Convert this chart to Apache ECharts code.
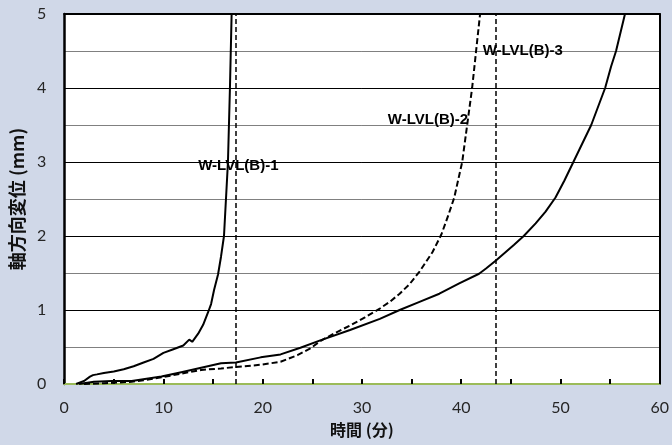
<!DOCTYPE html>
<html>
<head>
<meta charset="utf-8">
<script src="https://cdn.jsdelivr.net/npm/echarts@6/dist/echarts.min.js"></script>
<style>
html,body{margin:0;padding:0;background:#d0d8e8;}
#chart{width:672px;height:445px;}
</style>
</head>
<body>
<div id="chart"></div>
<script>
// Time (min) and axial displacement (mm) per specimen
var time1 = [1.2, 2.0, 2.6, 2.9, 3.3, 4.0, 5.0, 6.0, 7.0, 8.0, 9.0, 10.0, 11.0, 12.0, 12.6, 12.9, 13.5, 14.0, 14.5, 14.8, 15.1, 15.5, 15.8, 16.1, 16.3, 16.5, 16.7, 16.87];
var disp1 = [0, 0.04, 0.10, 0.12, 0.13, 0.15, 0.17, 0.20, 0.24, 0.29, 0.34, 0.42, 0.47, 0.52, 0.60, 0.57, 0.68, 0.80, 0.97, 1.08, 1.27, 1.48, 1.72, 2.0, 2.5, 3.0, 4.0, 5.0];

var time2 = [2.0, 4.0, 6.8, 8.0, 9.8, 11.8, 13.8, 15.8, 17.3, 19.8, 21.8, 23.5, 24.8, 25.8, 27.3, 28.8, 30.3, 31.8, 32.8, 33.8, 34.8, 35.8, 37.1, 38.0, 38.7, 39.3, 40.1, 40.6, 41.1, 41.5, 41.9];
var disp2 = [0, 0.01, 0.03, 0.05, 0.09, 0.14, 0.19, 0.21, 0.23, 0.26, 0.30, 0.39, 0.48, 0.58, 0.69, 0.79, 0.90, 1.02, 1.11, 1.22, 1.35, 1.52, 1.78, 2.02, 2.28, 2.52, 3.0, 3.5, 4.0, 4.5, 5.0];

var time3 = [1.5, 3.0, 4.8, 6.8, 7.8, 9.8, 11.8, 13.8, 15.8, 17.3, 19.8, 21.8, 23.8, 25.8, 28.8, 31.8, 33.8, 35.8, 37.8, 39.8, 41.8, 42.5, 43.5, 45.3, 46.3, 47.5, 48.5, 49.5, 50.4, 51.3, 52.2, 53.1, 54.5, 55.1, 55.6, 56.5];
var disp3 = [0, 0.03, 0.04, 0.04, 0.06, 0.10, 0.16, 0.22, 0.28, 0.29, 0.36, 0.40, 0.49, 0.59, 0.73, 0.88, 1.0, 1.11, 1.22, 1.36, 1.49, 1.56, 1.67, 1.88, 2.0, 2.17, 2.33, 2.52, 2.75, 3.0, 3.25, 3.5, 4.0, 4.29, 4.5, 5.0];

// Vertical reference lines (min)
var markTimes = [17.3, 43.5];

// Series labels
var labelNames = ['W-LVL(B)-1', 'W-LVL(B)-2', 'W-LVL(B)-3'];
var labelX = [17.55, 36.65, 46.2];
var labelY = [2.95, 3.57, 4.5];

// Axis titles
var xTitle = '時間 (分)';
var yTitle = '軸方向変位 (mm)';

function zip(a, b) { return a.map(function (v, i) { return [v, b[i]]; }); }

var chart = echarts.init(document.getElementById('chart'), null, {renderer: 'canvas'});
var latin = 'Lato, "Noto Sans CJK JP", sans-serif';
var labelFont = '"Liberation Sans", Arial, sans-serif';
var cjk = '"Noto Sans CJK JP", Lato, sans-serif';

chart.setOption({
  animation: false,
  backgroundColor: '#d0d8e8',
  grid: {left: 62, right: 10, top: 14, bottom: 61, show: true, backgroundColor: '#ffffff', borderWidth: 0},
  xAxis: [{
    type: 'value', min: 0, max: 60, interval: 10,
    name: xTitle, nameLocation: 'middle', nameGap: 38,
    nameTextStyle: {fontFamily: cjk, fontWeight: 'bold', fontSize: 16, color: '#111'},
    axisLine: {show: true, lineStyle: {color: '#9bbb59', width: 2}},
    axisTick: {show: true, inside: true, length: 5, lineStyle: {color: '#000', width: 2}},
    minorTick: {show: true, splitNumber: 2, length: 5, lineStyle: {color: '#000', width: 2}},
    axisLabel: {fontFamily: latin, fontSize: 16, color: '#262626', margin: 16},
    splitLine: {show: false}
  }, {
    type: 'value', min: 0, max: 60, position: 'top',
    axisLine: {show: true, onZero: false, lineStyle: {color: '#000', width: 2}},
    axisTick: {show: false}, axisLabel: {show: false}, splitLine: {show: false}
  }],
  yAxis: [{
    type: 'value', min: 0, max: 5, interval: 1,
    name: yTitle, nameLocation: 'middle', nameGap: 29,
    nameTextStyle: {fontFamily: cjk, fontWeight: 'bold', fontSize: 18, color: '#111'},
    axisLine: {show: true, lineStyle: {color: '#000', width: 2.5}},
    axisTick: {show: false},
    axisLabel: {fontFamily: latin, fontSize: 16, color: '#262626', margin: 18},
    splitLine: {show: true, lineStyle: {color: '#000', width: 1}},
    minorTick: {show: false, splitNumber: 2},
    minorSplitLine: {show: true, lineStyle: {color: '#808080', width: 1}}
  }, {
    type: 'value', min: 0, max: 5, position: 'right',
    axisLine: {show: true, onZero: false, lineStyle: {color: '#000', width: 2}},
    axisTick: {show: false}, axisLabel: {show: false}, splitLine: {show: false}
  }],
  series: [{
    name: labelNames[0], type: 'line', data: zip(time1, disp1),
    showSymbol: false, symbol: 'none', smooth: false, clip: true,
    lineStyle: {color: '#000', width: 2},
    markLine: {
      silent: true, symbol: 'none', label: {show: false},
      lineStyle: {color: '#000', width: 1.5, type: [5, 3]},
      data: markTimes.map(function (t) { return {xAxis: t}; })
    }
  }, {
    name: labelNames[1], type: 'line', data: zip(time2, disp2),
    showSymbol: false, symbol: 'none', clip: true,
    lineStyle: {color: '#000', width: 2, type: [6, 3]}
  }, {
    name: labelNames[2], type: 'line', data: zip(time3, disp3),
    showSymbol: false, symbol: 'none', clip: true,
    lineStyle: {color: '#000', width: 2}
  }, {
    type: 'scatter', symbolSize: 0, itemStyle: {color: '#000'},
    data: labelNames.map(function (n, i) { return {name: n, value: [labelX[i], labelY[i]]}; }),
    label: {show: true, position: [0, 0], align: 'center', verticalAlign: 'middle', formatter: '{b}',
      fontFamily: labelFont, fontWeight: 'bold', fontSize: 15, color: '#000', textBorderWidth: 0, opacity: 1},
    emphasis: {disabled: true},
    silent: true,
    z: 10
  }]
});
</script>
</body>
</html>
